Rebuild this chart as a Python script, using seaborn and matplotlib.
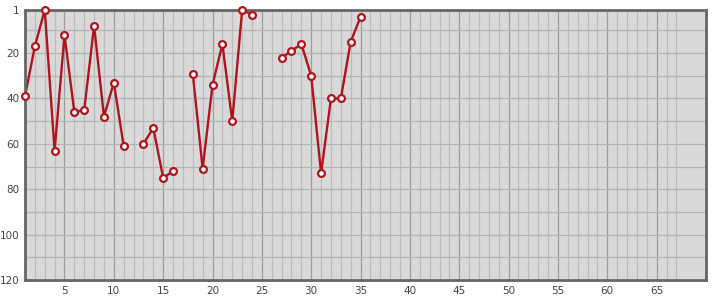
import numpy as np
import pandas as pd
import matplotlib
matplotlib.use("Agg")
import matplotlib.pyplot as plt
import seaborn as sns
from matplotlib.ticker import FixedLocator

# Data (x position, rank value); None = missing
x_vals = list(range(1, 36))
y_vals = [39, 17, 1, 63, 12, 46, 45, 8, 48, 33, 61, None,
          60, 53, 75, 72, None, 29, 71, 34, 16, 50, 1, 3,
          None, None, 22, 19, 16, 30, 73, 40, 40, 15, 4]
x_ticks = [5, 10, 15, 20, 25, 30, 35, 40, 45, 50, 55, 60, 65]
y_ticks = [1, 20, 40, 60, 80, 100, 120]

df = pd.DataFrame({"x": x_vals, "y": y_vals})
df["seg"] = df["y"].isna().cumsum()
df = df.dropna()

sns.set_style("white")
fig = plt.figure(figsize=(7.15, 3.0), dpi=100)
ax = fig.add_axes([25 / 715, 20 / 300, 681 / 715, 270 / 300])
ax.set_facecolor("#d9d9d9")

line_color = "#b0141c"
sns.lineplot(data=df, x="x", y="y", units="seg", estimator=None,
             color=line_color, linewidth=1.7, ax=ax, legend=False, zorder=3)
sc = sns.scatterplot(data=df, x="x", y="y", ax=ax, marker="o", s=24,
                     facecolor="white", edgecolor=line_color, linewidth=1.6,
                     zorder=6, legend=False, clip_on=False)

ax.set_xlim(1, 70)
ax.set_ylim(120, 1)

# grid
for xv in range(2, 68):
    c = "#9c9c9c" if xv % 5 == 0 else "#bcbcbc"
    ax.axvline(xv, color=c, linewidth=0.9, zorder=1)
for yv in range(10, 120, 10):
    ax.axhline(yv, color="#b6b6b6", linewidth=0.9, zorder=1)

ax.xaxis.set_major_locator(FixedLocator(x_ticks))
ax.yaxis.set_major_locator(FixedLocator(y_ticks))
ax.tick_params(axis="both", length=0, labelsize=7.5, labelcolor="#444444", pad=4)
ax.set_xlabel("")
ax.set_ylabel("")

for s in ax.spines.values():
    s.set_visible(True)
    s.set_color("#666666")
    s.set_linewidth(2)
    s.set_zorder(5)

fig.savefig("out.png", dpi=100)
